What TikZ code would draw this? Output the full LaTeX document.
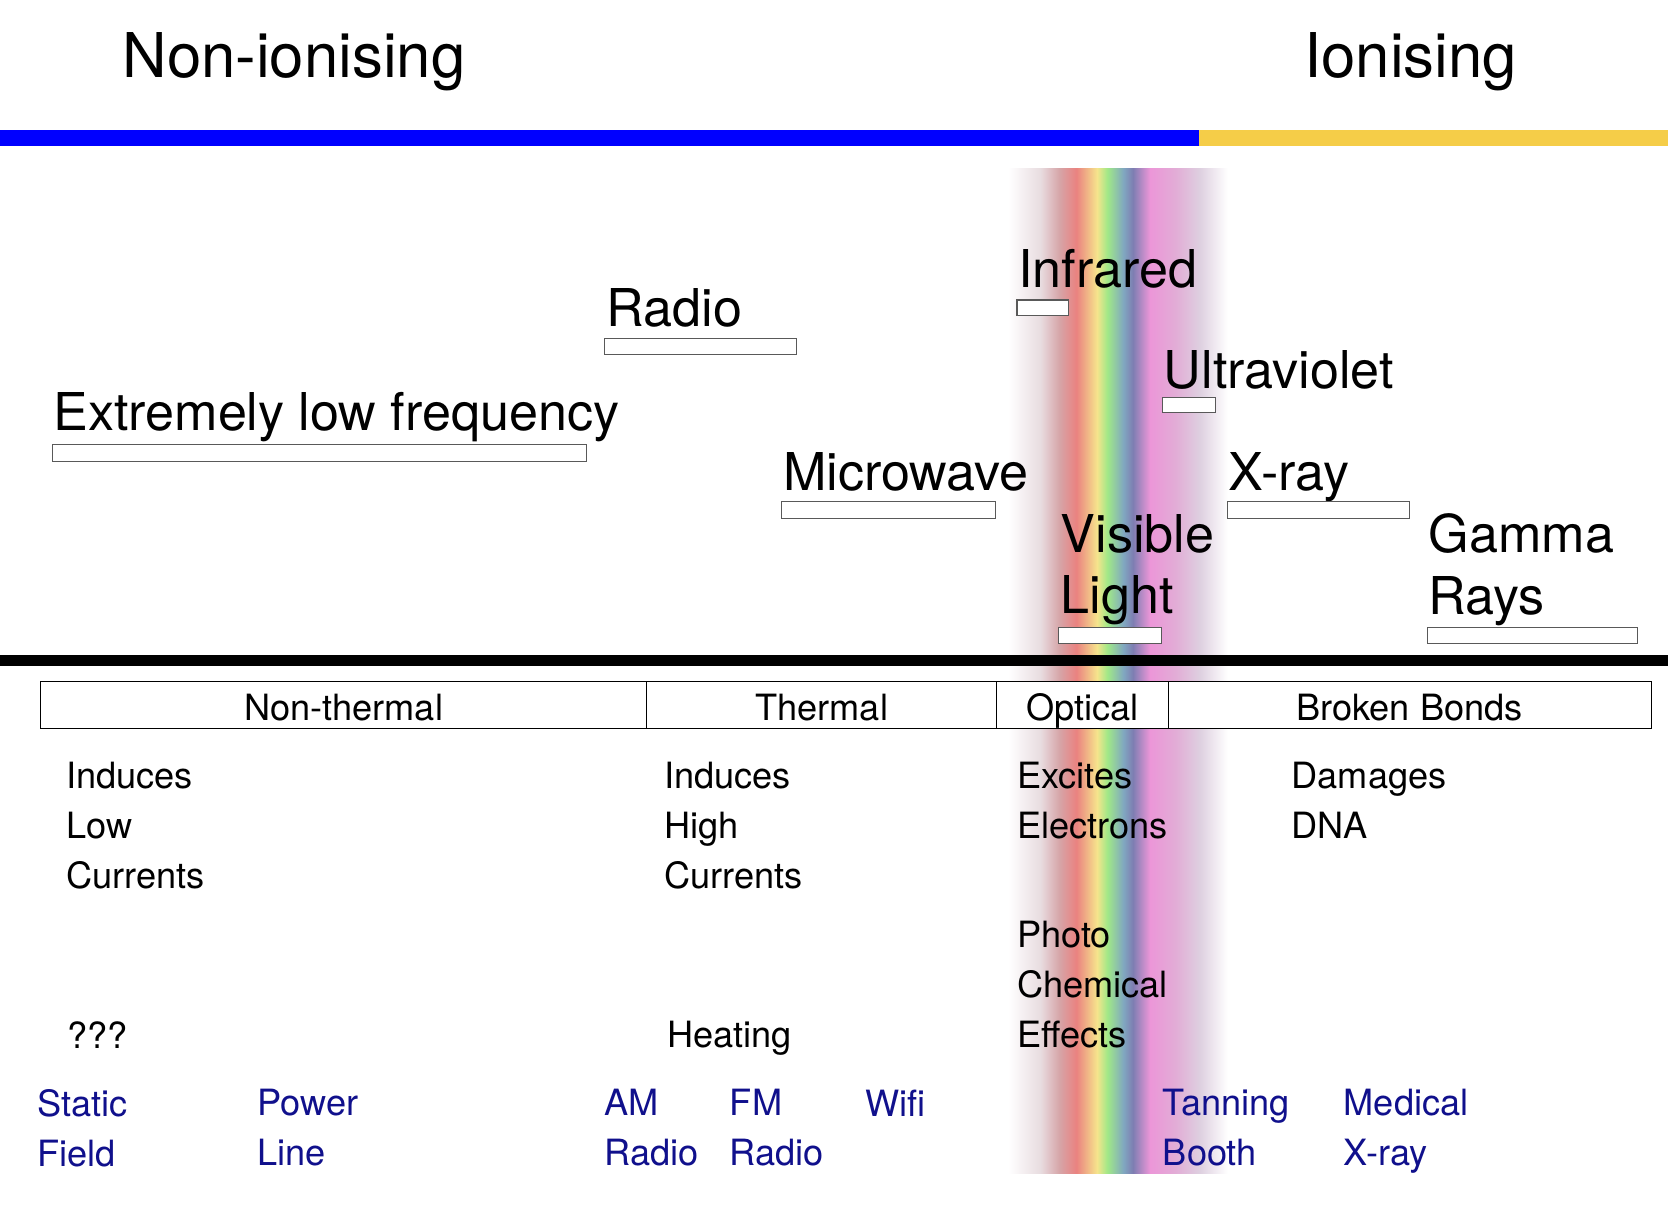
\documentclass[tikz,border=0pt]{standalone}
\usepackage{fontspec}
\setmainfont{TeX Gyre Heros}
\usetikzlibrary{positioning}
\definecolor{ionblue}{RGB}{0, 0, 255}
\definecolor{ionyellow}{RGB}{245, 205, 72}
\definecolor{sourcenavy}{RGB}{16, 16, 140}
\definecolor{bandA}{RGB}{232, 220, 224}
\definecolor{bandB}{RGB}{214, 165, 168}
\definecolor{bandC}{RGB}{234, 130, 128}
\definecolor{bandD}{RGB}{246, 228, 140}
\definecolor{bandE}{RGB}{160, 232, 135}
\definecolor{bandF}{RGB}{128, 168, 192}
\definecolor{bandG}{RGB}{126, 126, 178}
\definecolor{bandH}{RGB}{236, 150, 216}
\definecolor{bandI}{RGB}{226, 172, 214}
\definecolor{bandJ}{RGB}{222, 208, 224}
\pgfdeclarehorizontalshading{visband}{100bp}{
    color(0bp)=(white); color(25bp)=(white);
    color(32.3bp)=(bandA); color(36.6bp)=(bandB); color(40.5bp)=(bandC);
    color(45.2bp)=(bandD); color(47.6bp)=(bandE); color(51.2bp)=(bandF);
    color(53.4bp)=(bandG); color(57.3bp)=(bandH); color(63.1bp)=(bandI);
    color(68.7bp)=(bandJ); color(75bp)=(white); color(100bp)=(white)}

\begin{document}
\begin{tikzpicture}[
        x=1pt, y=-1pt,
        title/.style={anchor=base west, inner sep=0, font=\fontsize{58}{68}\selectfont},
        band/.style={anchor=base west, inner sep=0, align=left, font=\fontsize{49}{58}\selectfont},
        rangebox/.style={draw=black!65, fill=white, line width=1pt, anchor=north west, inner sep=0, outer sep=0},
        cell/.style={draw, fill=white, line width=0.8pt, anchor=north west, minimum height=44, text height=28, text depth=0, inner sep=0, outer sep=0, font=\fontsize{34}{40}\selectfont},
        effect/.style={anchor=north west, inner sep=0, align=left, font=\fontsize{34}{47}\selectfont},
        source/.style={effect, text=sourcenavy}
    ]
        \useasboundingbox (0,0) rectangle (1568,1140);

        % Visible band
        \shade[shading=visband] (948,158) rectangle (1154,1103);

        % Ionising bar
        \fill[ionblue] (0,122) rectangle (1127,137);
        \fill[ionyellow] (1127,122) rectangle (1568,137);
        \node[title] (nonion) at (115,73) {Non-ionising};
        \node[title] (ion) at (1226,73) {Ionising};

        % Spectrum ranges
        \node[band] (elf) at (50,405) {Extremely low frequency};
        \node[rangebox, minimum width=502, minimum height=16] (elfbox) at (49,418) {};

        \node[band] (radio) at (570,307) {Radio};
        \node[rangebox, minimum width=181, minimum height=15] (radiobox) at (568,318) {};

        \node[band] (micro) at (736,461) {Microwave};
        \node[rangebox, minimum width=201, minimum height=16] (microbox) at (735,471) {};

        \node[band] (infra) at (957,270) {Infrared};
        \node[rangebox, minimum width=48, minimum height=15] (infrabox) at (956,282) {};

        \node[band] (ultra) at (1094,365) {Ultraviolet};
        \node[rangebox, minimum width=50, minimum height=14] (ultrabox) at (1093,374) {};

        \node[band] (xray) at (1155,461) {X-ray};
        \node[rangebox, minimum width=171, minimum height=16] (xraybox) at (1154,471) {};

        \node[band, anchor=north west] (vis) at (997,483) {Visible\\Light};
        \node[rangebox, minimum width=97, minimum height=15] (visbox) at (995,590) {};

        \node[band, anchor=north west] (gamma) at (1343,483) {Gamma\\Rays};
        \node[rangebox, minimum width=197, minimum height=15] (gammabox) at (1342,590) {};

        % Divider
        \draw[line width=10pt] (0,621) -- (1568,621);

        % Effect classes
        \node[cell, minimum width=570] (nonthermal) at (38,641) {Non-thermal};
        \node[cell, minimum width=329, right=0pt of nonthermal] (thermal) {Thermal};
        \node[cell, minimum width=161, right=0pt of thermal] (optical) {Optical};
        \node[cell, minimum width=454, right=0pt of optical] (broken) {Broken Bonds};

        % Effects
        \node[effect] (lowcur) at (62,716) {Induces\\Low\\Currents};
        \node[effect] (unknown) at (63,960) {???};
        \node[effect] (highcur) at (624,716) {Induces\\High\\Currents};
        \node[effect] (heating) at (627,960) {Heating};
        \node[effect] (excites) at (956,716) {Excites\\Electrons};
        \node[effect] (photo) at (956,866) {Photo\\Chemical\\Effects};
        \node[effect] (dna) at (1214,716) {Damages\\DNA};

        % Sources
        \node[source] (static) at (35,1024) {Static\\Field};
        \node[source] (power) at (242,1024) {Power\\Line};
        \node[source] (am) at (568,1024) {AM\\Radio};
        \node[source] (fm) at (686,1024) {FM\\Radio};
        \node[source] (wifi) at (813,1024) {Wifi};
        \node[source] (tanning) at (1093,1024) {Tanning\\Booth};
        \node[source] (medical) at (1263,1024) {Medical\\X-ray};
    \end{tikzpicture}
\end{document}
